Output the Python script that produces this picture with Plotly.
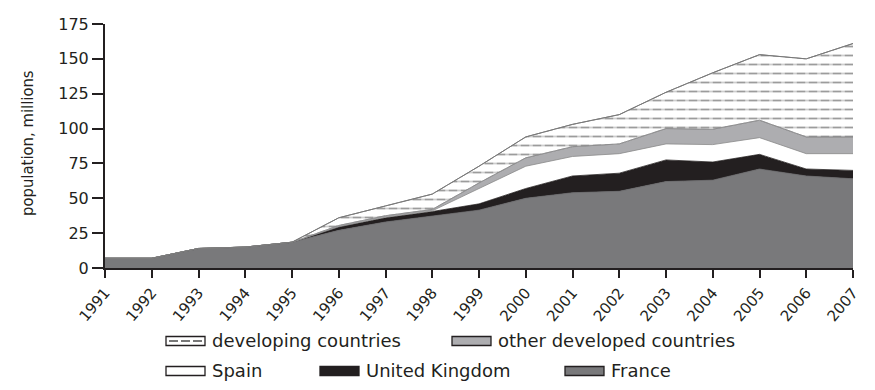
import plotly.graph_objects as go
import numpy as np

years = list(range(1991, 2008))
france = [7, 7, 14, 15, 18.5, 27, 33, 37, 41.5, 50, 54, 55, 62, 63, 71, 66, 64]
uk = [0, 0, 0, 0, 0, 2.5, 3, 3.5, 4.5, 7, 12, 13, 15.5, 13, 10.5, 5, 6]
spain = [0, 0, 0, 0, 0, 0, 0.5, 0.5, 11, 16, 14, 14, 11.5, 12.5, 12, 11, 12]
other_dev = [0, 0, 0, 0, 0, 1, 1, 1, 4, 6, 7, 7, 11, 11, 12.5, 12, 12]
developing = [0, 0, 0, 0, 0, 5.5, 7, 11, 12, 15, 16, 21, 26, 40.5, 47, 56, 67]
y_ticks = [0, 25, 50, 75, 100, 125, 150, 175]
legend_names = ["developing countries", "other developed countries",
                "Spain", "United Kingdom", "France"]

FONT = "DejaVu Sans, sans-serif"
TITLE_FONT = "DejaVu Sans Condensed, DejaVu Sans, sans-serif"
TXT = "#231f20"

C_FR, C_UK, C_SP, C_OT, C_DV = "#79797b", "#231f20", "#ffffff", "#adadb0", "#ffffff"

fig = go.Figure()
series = [
    ("France", france, C_FR, "#6a6a6c"),
    ("United Kingdom", uk, C_UK, "#231f20"),
    ("Spain", spain, C_SP, "#8a8a8a"),
    ("other developed countries", other_dev, C_OT, "#8a8a8c"),
]
for name, vals, fc, lc in series:
    fig.add_trace(go.Scatter(
        x=years, y=vals, name=name, mode="lines", stackgroup="one",
        fillcolor=fc, line=dict(color=lc, width=0.8), showlegend=False,
        hoverinfo="skip"))
fig.add_trace(go.Scatter(
    x=years, y=developing, name="developing countries", mode="lines",
    stackgroup="one", fillcolor=C_DV, line=dict(color="#7a7a7a", width=1),
    fillpattern=dict(shape="-", fgcolor="#3a3a3a", bgcolor="#ffffff",
                     size=9, solidity=0.2),
    showlegend=False, hoverinfo="skip"))

# white vertical cuts turn the horizontal lines of the band into dashes
base = np.array(france) + np.array(uk) + np.array(spain) + np.array(other_dev)
top = base + np.array(developing)
fig.add_trace(go.Scatter(x=years, y=base, mode="lines",
                         line=dict(color="#8a8a8c", width=0.8),
                         showlegend=False, hoverinfo="skip"))
fig.add_trace(go.Scatter(x=years, y=top, mode="lines", fill="tonexty",
                         fillcolor="rgba(0,0,0,0)",
                         fillpattern=dict(shape="|", fgcolor="#ffffff",
                                          bgcolor="rgba(0,0,0,0)",
                                          size=12, solidity=0.3),
                         line=dict(color="#7a7a7a", width=1),
                         showlegend=False, hoverinfo="skip"))

# page has an 8px body margin: figure coordinates = page coordinates - 8
OFF = 8
W, H = 859, 374
L, T = 105 - OFF, 24 - OFF
R = W - (853 - OFF)
B = H - (268 - OFF)
pw, ph = W - L - R, H - T - B


def px(x):
    """page x pixel -> paper x"""
    return (x - OFF - L) / pw


def py(y):
    """page y pixel -> paper y"""
    return (H - B - (y - OFF)) / ph


leg_items = [
    # name, fill, rect-left, y-center (page px)
    (legend_names[0], C_DV, 166, 341),
    (legend_names[1], C_OT, 452, 341),
    (legend_names[2], C_SP, 166, 371),
    (legend_names[3], C_UK, 320, 371),
    (legend_names[4], C_FR, 565, 371),
]
shapes = []
annotations = []
for name, fc, x0, yc in leg_items:
    shapes.append(dict(type="rect", xref="paper", yref="paper",
                       x0=px(x0), x1=px(x0 + 39), y0=py(yc + 4.5), y1=py(yc - 4.5),
                       fillcolor=fc, line=dict(color="#231f20", width=1.3)))
    if name == "developing countries":
        for dx in (3, 15, 27):
            shapes.append(dict(type="line", xref="paper", yref="paper",
                               x0=px(x0 + dx), x1=px(x0 + dx + 9),
                               y0=py(yc), y1=py(yc),
                               line=dict(color="#4a4a4a", width=1.5)))
    annotations.append(dict(text=name, xref="paper", yref="paper",
                            x=px(x0 + 44), y=py(yc - 1), xanchor="left",
                            yanchor="middle", showarrow=False,
                            font=dict(family=FONT, size=18, color=TXT)))

annotations.append(dict(text="population, millions", xref="paper", yref="paper",
                        x=px(27), y=py(143), textangle=-90, showarrow=False,
                        xanchor="center", yanchor="middle",
                        font=dict(family=TITLE_FONT, size=16.5, color=TXT)))

fig.update_layout(
    width=W, height=H,
    margin=dict(l=L, r=R, t=T, b=B, autoexpand=False),
    paper_bgcolor="white", plot_bgcolor="white",
    font=dict(family=FONT, size=16, color=TXT),
    showlegend=False,
    shapes=shapes, annotations=annotations,
    xaxis=dict(range=[1991, 2007], tickmode="array", tickvals=years,
               ticktext=[str(y) for y in years], tickangle=-50,
               ticks="outside", ticklen=8, tickwidth=2, tickcolor=TXT,
               showline=True, linecolor=TXT, linewidth=2,
               showgrid=False, zeroline=False, automargin=False,
               tickfont=dict(family=FONT, size=15, color=TXT)),
    yaxis=dict(range=[0, 175], tickmode="array", tickvals=y_ticks,
               ticks="outside", ticklen=11, tickwidth=2, tickcolor=TXT,
               showline=True, linecolor=TXT, linewidth=2,
               showgrid=False, zeroline=False, automargin=False,
               tickfont=dict(family=FONT, size=16, color=TXT)),
)

fig.write_html("out.html")
